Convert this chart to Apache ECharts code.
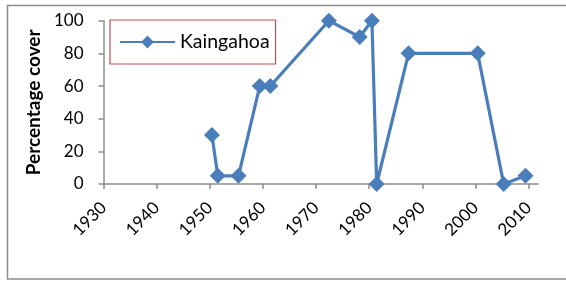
<!DOCTYPE html>
<html><head><meta charset="utf-8">
<script src="https://cdn.jsdelivr.net/npm/echarts@6/dist/echarts.min.js"></script>
<style>html,body{margin:0;padding:0;background:#fff}#c{width:566px;height:282px}</style>
</head><body><div id="c"></div>
<script>
const seriesName = 'Kaingahoa';
const years = [1950.4, 1951.5, 1955.4, 1959.4, 1961.4, 1972.4, 1978.2, 1980.5, 1981.4, 1987.4, 2000.4, 2005.3, 2009.4];
const cover = [30, 5, 5, 60, 60, 100, 90, 100, 0, 80, 80, 0, 5];
const xTicks = [1930, 1940, 1950, 1960, 1970, 1980, 1990, 2000, 2010];
const yTicks = [0, 20, 40, 60, 80, 100];

const chart = echarts.init(document.getElementById('c'), null, {renderer: 'canvas'});
const font = 'Lato, "Liberation Sans", sans-serif';
chart.setOption({
  animation: false,
  backgroundColor: '#fff',
  graphic: [{type: 'rect', shape: {x: 7.5, y: 5.5, width: 570, height: 273.5}, style: {fill: 'none', stroke: '#8c8c8c', lineWidth: 1.5}, silent: true, z: -1}],
  grid: {left: 103.5, right: 28, top: 20.7, bottom: 98},
  legend: {
    left: 110, top: 20, width: 162, height: 40,
    padding: [12, 6, 12, 9],
    borderColor: '#c0504d', borderWidth: 1.2,
    itemWidth: 55, itemHeight: 16, itemGap: 5,
    textStyle: {fontFamily: font, fontSize: 19.5, color: '#000'},
    data: [seriesName]
  },
  xAxis: {
    type: 'value', min: 1930, max: 2011.75, interval: 10,
    splitLine: {show: false},
    axisLine: {show: true, lineStyle: {color: '#8c8c8c', width: 1.5}},
    axisTick: {show: true, length: 5, customValues: xTicks, lineStyle: {color: '#8c8c8c', width: 1.5}},
    axisLabel: {customValues: xTicks, rotate: 45, margin: 21, fontFamily: font, fontSize: 17, color: '#000',
      formatter: v => String(v)}
  },
  yAxis: {
    type: 'value', min: 0, max: 100, interval: 20,
    name: 'Percentage cover', nameLocation: 'middle', nameGap: 55,
    nameTextStyle: {fontFamily: font, fontSize: 19, fontWeight: 'bold', color: '#000'},
    splitLine: {show: false},
    axisLine: {show: true, lineStyle: {color: '#8c8c8c', width: 1.5}},
    axisTick: {show: true, length: 5, lineStyle: {color: '#8c8c8c', width: 1.5}},
    axisLabel: {margin: 20, fontFamily: font, fontSize: 17, color: '#000', customValues: yTicks,
      formatter: v => String(v)}
  },
  series: [{
    name: seriesName, type: 'line',
    data: years.map((y, i) => [y, cover[i]]),
    symbol: 'diamond', symbolSize: 16,
    lineStyle: {color: '#4a7ebb', width: 3.2},
    itemStyle: {color: '#4a7ebb'}
  }]
});
</script></body></html>
